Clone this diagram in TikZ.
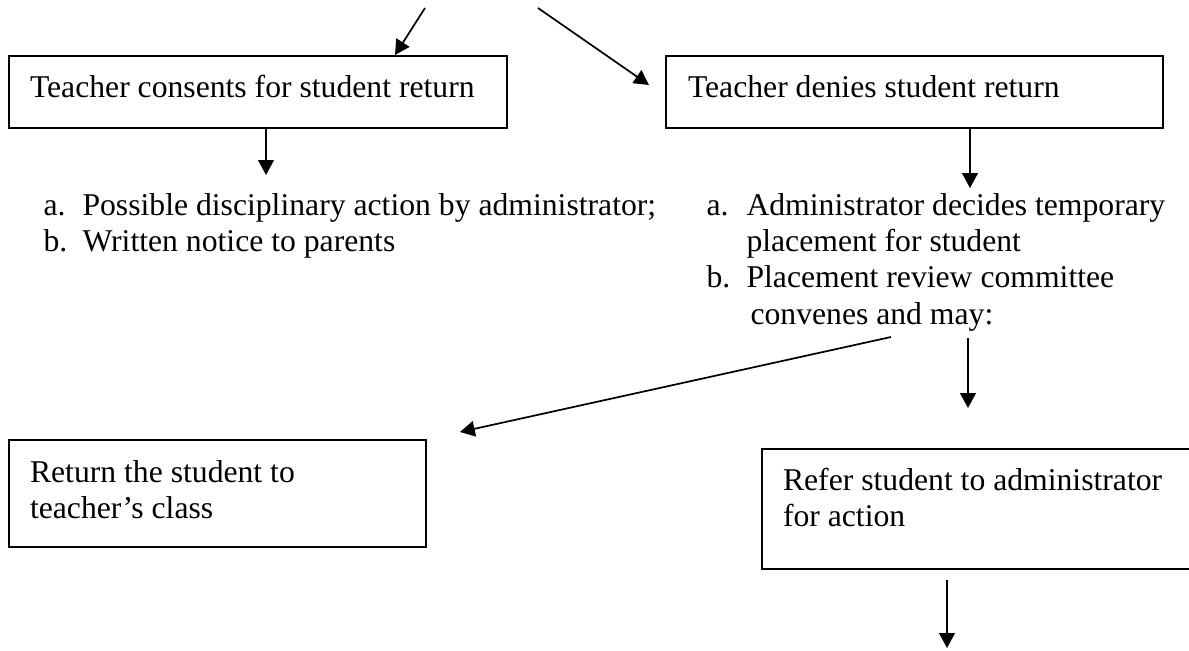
\documentclass[tikz,border=0pt]{standalone}
\usepackage{fontspec}
\setmainfont{Liberation Serif}
\usetikzlibrary{arrows.meta}
\newlength\pxu
\setlength\pxu{0.3788pt}
\tikzset{
  caixa/.style={draw, line width=0.7pt, anchor=north west, align=flush left,
    inner xsep=21\pxu, inner ysep=0pt, outer sep=0pt},
  lista/.style={anchor=base west, inner sep=0pt},
  seta/.style={line width=0.65pt, -{Triangle[width=5.9pt,length=5.6pt]}},
}
\begin{document}
\begin{tikzpicture}[x=0.3788pt, y=-0.3788pt, font=\fontsize{12}{13.8}\selectfont]
\useasboundingbox (0,0) rectangle (1189,650);

% caixas
\node[caixa, text width=456\pxu, text height=41\pxu, text depth=31\pxu]
  (consente) at (9,56) {Teacher consents for student return};
\node[caixa, inner xsep=22\pxu, text width=453\pxu, text height=41\pxu, text depth=31\pxu]
  (nega) at (666,56) {Teacher denies student return};
\node[caixa, text width=375\pxu, text height=42\pxu, text depth=65\pxu]
  (retorna) at (9,440) {Return the student to\\teacher’s class};
\node[caixa, text width=400\pxu, text height=41\pxu, text depth=79\pxu]
  (encaminha) at (762,449) {Refer student to administrator\\for action};

% listas
\node[lista] (esqlista) at (43,215) {\begin{tabular}[t]{@{}p{39\pxu}@{}l@{}}
  a. & Possible disciplinary action by administrator;\\
  b. & Written notice to parents
\end{tabular}};
\node[lista] (dirlista) at (706,215) {\begin{tabular}[t]{@{}p{40\pxu}@{}l@{}}
  a. & Administrator decides temporary\\
     & placement for student\\
  b. & Placement review committee\\
     & \hspace{4\pxu}convenes and may:
\end{tabular}};

% setas
\coordinate (topoesq) at (425,8);
\coordinate (topodir) at (538,8);
\draw[seta] (topoesq) -- ([xshift=386\pxu,yshift=1\pxu]consente.north west);
\draw[seta] (topodir) -- ([xshift=-17\pxu,yshift=-29\pxu]nega.north west);
\draw[seta] ([xshift=257\pxu]consente.south west) -- ++(0,47);
\draw[seta] ([xshift=304\pxu]nega.south west) -- ++(0,60);
\draw[seta] ([xshift=185\pxu,yshift=-122\pxu]dirlista.base west)
  -- ([xshift=451\pxu,yshift=8\pxu]retorna.north west);
\draw[seta] ([xshift=262\pxu,yshift=-123\pxu]dirlista.base west)
  -- ([xshift=206\pxu,yshift=41\pxu]encaminha.north west);
\draw[seta] ([xshift=185\pxu,yshift=-11\pxu]encaminha.south west) -- ++(0,68);

\end{tikzpicture}
\end{document}
